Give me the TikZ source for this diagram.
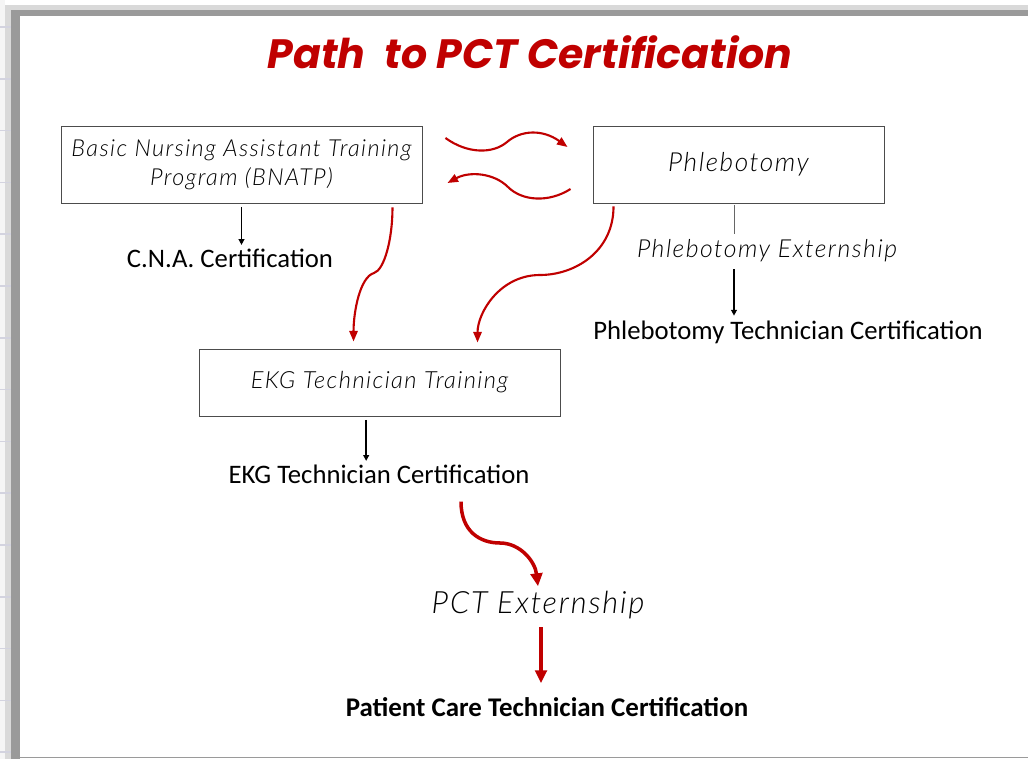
\documentclass[tikz,border=0pt]{standalone}
\usepackage{fontspec}
\setmainfont{Carlito}
\newfontfamily\titlefont{Poppins}
\newfontfamily\boxfont{Lato Light Italic}[LetterSpace=6]
\usetikzlibrary{arrows.meta,calc}
\definecolor{pctred}{HTML}{C00000}
\definecolor{framegray}{HTML}{9A9A9A}

\begin{document}
\begin{tikzpicture}
  [x=0.03cm,y=-0.03cm,every node/.style={inner sep=0pt},
   box/.style={draw=black!70,line width=0.8pt,align=center,
     font=\boxfont\fontsize{20}{24.5}\selectfont},
   cert/.style={font=\fontsize{22.8}{26}\selectfont},
   ext/.style={font=\boxfont\fontsize{21.2}{24}\selectfont},
   blk/.style={draw=black,line width=1.2pt,-{Triangle[length=5pt,width=5pt]}},
   redarrow/.style={draw=pctred,line width=1.8pt,-{Triangle[length=9pt,width=7pt]}},
   bigred/.style={draw=pctred,line width=3pt,-{Triangle[length=11pt,width=10pt]}}]
\useasboundingbox (0,0) rectangle (1028,759);
\fill[white] (0,0) rectangle (1028,759);
\fill[gray!8] (0,0) rectangle (5,759);
 \fill[gray!30] (5,5) rectangle (1028,10);
 \fill[framegray] (10,10) rectangle (1028,16);
 \fill[gray!30] (5,5) rectangle (11,759);
 \fill[framegray] (11,10) rectangle (20,759);
 \draw[framegray,line width=1pt] (20,757.5) -- (1028,757.5);
\foreach \y in {27,78.8,...,753}
  \draw[blue!15!gray!30,line width=1.5pt] (0,\y) -- (11,\y);

\node (title)[font=\titlefont\bfseries\itshape\fontsize{35}{40}\selectfont,text=pctred]
  at (530,52) {Path\ \ to PCT Certification};

\node (bnatp)[box,minimum width=10.83cm,minimum height=2.31cm] at (241.5,164.5)
  {Basic Nursing Assistant Training\\Program (BNATP)};
\node (phleb)[box,font=\boxfont\fontsize{22.4}{26}\selectfont,
  minimum width=8.73cm,minimum height=2.31cm] at (738.5,164.5) {Phlebotomy};
\node (cna)[cert] at (230,258) {C.N.A. Certification};
\node (phlebext)[ext] at (767,251) {Phlebotomy Externship};
\node (phlebtech)[cert] at (788,332) {Phlebotomy Technician Certification};
\node (ekg)[box,font=\boxfont\fontsize{20.2}{24}\selectfont,
  minimum width=10.83cm,minimum height=2.01cm] at (379.5,382.5) {EKG Technician Training};
\node (ekgcert)[cert] at (379,474) {EKG Technician Certification};
\node (pctext)[font=\boxfont\fontsize{26.2}{30}\selectfont] at (538,605) {PCT Externship};
\node (pctcert)[cert,font=\bfseries\fontsize{23}{26}\selectfont] at (547,707)
  {Patient Care Technician Certification};

\coordinate (stem) at (734,205);
\coordinate (pctstem) at ([xshift=0.09cm]pctext.south);

% black arrows
\draw[blk] ([yshift=-3pt]bnatp.south) -- ([yshift=3pt]bnatp.south |- cna.north);
\draw[black!60,line width=0.6pt] (stem) -- ([yshift=5pt]stem |- phlebext.north);
\draw[blk] ([yshift=-6pt]stem |- phlebext.south) -- ([yshift=4pt]stem |- phlebtech.north);
\draw[blk] ([xshift=-0.4cm,yshift=-3pt]ekg.south) -- ([xshift=-0.4cm,yshift=3pt]ekg.south |- ekgcert.north);

% red arrows
\draw[redarrow] ($(bnatp.east)+(23,-26.5)$) .. controls +(22,16) and +(-14,12) .. (507,142)
  .. controls +(14,-12) and +(-25,-18) .. ($(phleb.west)+(-25,-17.5)$);
\draw[redarrow] ($(phleb.west)+(-22,24.5)$) .. controls +(-22,14) and +(14,14) .. (508,187)
  .. controls +(-14,-14) and +(22,-12) .. ($(bnatp.east)+(25,18.5)$);
\draw[redarrow] ($(bnatp.south east)+(-30,4)$) .. controls +(0,33) and +(10,-3) .. (374,273)
  .. controls +(-14,4) and +(0,-30) .. ($(ekg.north west)+(155,-7)$);
\draw[redarrow] ($(phleb.south west)+(21,3)$) .. controls +(0,45) and +(35,0) .. (540,275)
  .. controls +(-40,0) and +(0,-30) .. ($(ekg.north west)+(279,-6)$);
\draw[bigred] ($(ekgcert.south)+(82,18)$) .. controls +(0,30) and +(-20,0) .. (500,543)
  .. controls +(20,0) and +(-3,-25) .. ([yshift=4pt]pctext.north);
\draw[bigred] ([yshift=-7pt]pctstem) -- ([yshift=12pt]pctstem |- pctcert.north);

\end{tikzpicture}
\end{document}
